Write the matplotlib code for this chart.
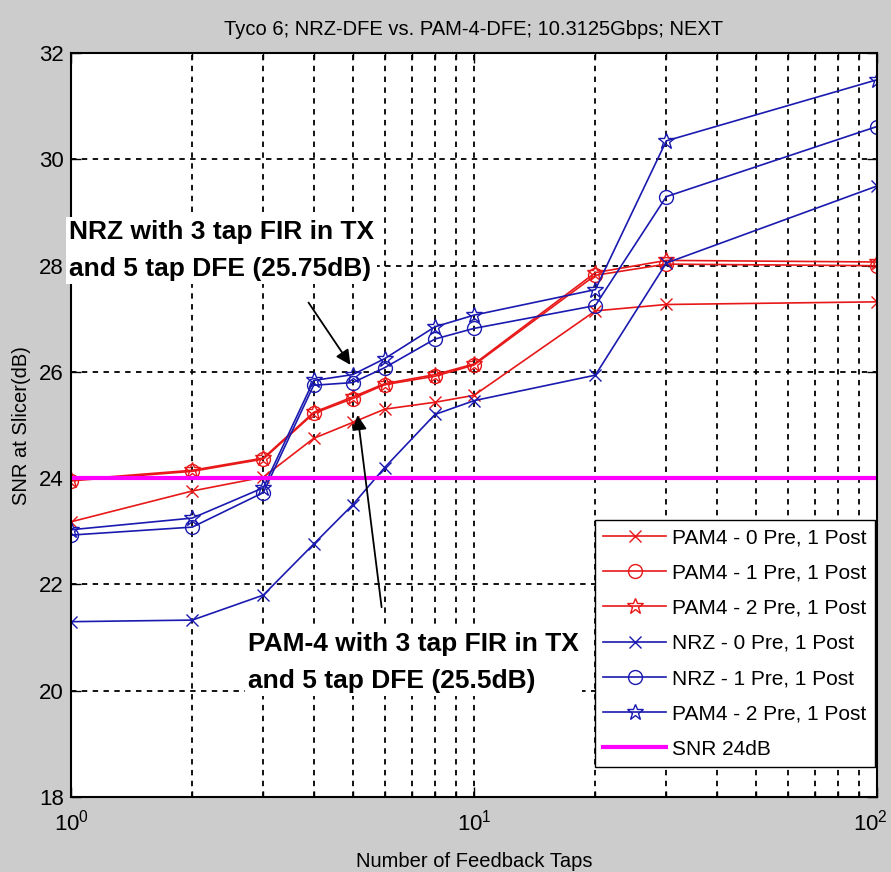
import matplotlib
matplotlib.use("Agg")
import matplotlib.pyplot as plt
import matplotlib.ticker as ticker
import matplotlib.transforms as mtransforms

plt.rcParams["font.family"] = ["Liberation Sans", "DejaVu Sans"]
plt.rcParams["mathtext.fontset"] = "custom"
plt.rcParams["mathtext.rm"] = "Liberation Sans"

taps = [1, 2, 3, 4, 5, 6, 8, 10, 20, 30, 100]

pam4_0pre = [23.18, 23.76, 24.02, 24.75, 25.05, 25.30, 25.43, 25.56, 27.15, 27.27, 27.32]
pam4_1pre = [23.95, 24.13, 24.36, 25.22, 25.50, 25.76, 25.92, 26.13, 27.82, 28.03, 28.00]
pam4_2pre = [23.97, 24.15, 24.38, 25.24, 25.53, 25.78, 25.95, 26.15, 27.87, 28.10, 28.07]
nrz_0pre = [21.30, 21.33, 21.80, 22.76, 23.50, 24.20, 25.20, 25.46, 25.94, 28.05, 29.50]
nrz_1pre = [22.93, 23.08, 23.73, 25.75, 25.80, 26.08, 26.62, 26.82, 27.25, 29.30, 30.62]
pam4_2pre_b = [23.03, 23.25, 23.82, 25.84, 25.95, 26.25, 26.85, 27.07, 27.55, 30.35, 31.50]
snr_target = 24

RED = "#e81818"
BLUE = "#1a1ab0"

fig = plt.figure(figsize=(8.91, 8.72), dpi=100, facecolor="#cccccc")
ax = fig.add_axes([0.0797, 0.086, 0.9046, 0.853])

ax.plot(taps, pam4_0pre, color=RED, marker="x", ms=8, lw=1.2, label="PAM4 - 0 Pre, 1 Post")
ax.plot(taps, pam4_1pre, color=RED, marker="o", ms=10, mfc="none", lw=1.2, label="PAM4 - 1 Pre, 1 Post")
ax.plot(taps, pam4_2pre, color=RED, marker="*", ms=12, mfc="none", lw=1.2, label="PAM4 - 2 Pre, 1 Post")
ax.plot(taps, nrz_0pre, color=BLUE, marker="x", ms=8, lw=1.2, label="NRZ - 0 Pre, 1 Post")
ax.plot(taps, nrz_1pre, color=BLUE, marker="o", ms=10, mfc="none", lw=1.2, label="NRZ - 1 Pre, 1 Post")
ax.plot(taps, pam4_2pre_b, color=BLUE, marker="*", ms=12, mfc="none", lw=1.2, label="PAM4 - 2 Pre, 1 Post")
ax.axhline(snr_target, color="#ff00ff", lw=3, label="SNR 24dB")

ax.set_xscale("log")
ax.set_xlim(1, 100)
ax.set_ylim(18, 32)
ax.set_yticks(range(18, 33, 2))
ax.set_xticks([1, 10, 100])
ax.set_xticklabels([r"$\mathregular{10^0}$", r"$\mathregular{10^1}$", r"$\mathregular{10^2}$"])
ax.xaxis.set_minor_locator(ticker.LogLocator(base=10, subs=range(2, 10)))
ax.xaxis.set_minor_formatter(ticker.NullFormatter())

ax.grid(True, which="both", axis="x", color="black", linestyle=(0, (3, 3)), lw=1.3)
ax.grid(True, which="major", axis="y", color="black", linestyle=(0, (3, 3)), lw=1.3)
ax.tick_params(which="both", direction="in", top=True, right=True, labelsize=16, width=1)
ax.tick_params(which="major", length=7)
ax.tick_params(which="minor", length=4)
ax.tick_params(axis="x", pad=9)
ax.tick_params(axis="y", pad=5)
for s in ax.spines.values():
    s.set_linewidth(1.5)

# keep the 10^2 label inside the figure
last = ax.get_xticklabels()[-1]
last.set_transform(last.get_transform() + mtransforms.ScaledTranslation(-5 / 72, 0, fig.dpi_scale_trans))

ax.set_title("Tyco 6; NRZ-DFE vs. PAM-4-DFE; 10.3125Gbps; NEXT", fontsize=14.5, pad=13)
ax.set_xlabel("Number of Feedback Taps", fontsize=14.5, labelpad=12)
ax.set_ylabel("SNR at Slicer(dB)", fontsize=14.5, labelpad=6)

bold = dict(fontsize=19, fontweight="bold", va="top", ha="left",
            transform=ax.transAxes, linespacing=1.7,
            bbox=dict(facecolor="white", edgecolor="none", pad=2))
ax.text(-0.003, 0.776, "NRZ with 3 tap FIR in TX\nand 5 tap DFE (25.75dB)", **bold)
ax.text(0.22, 0.222, "PAM-4 with 3 tap FIR in TX\nand 5 tap DFE (25.5dB)", **bold)

arrow = dict(arrowstyle="-|>", color="black", lw=1.3, mutation_scale=22)
ax.annotate("", xy=(4.98, 26.09), xytext=(3.85, 27.35), arrowprops=arrow)
ax.annotate("", xy=(5.13, 25.24), xytext=(5.91, 21.52), arrowprops=arrow)

leg = ax.legend(loc="lower right", bbox_to_anchor=(0.9975, 0.0403), borderaxespad=0,
                fontsize=15, numpoints=1, handlelength=3.0, handletextpad=0.3,
                labelspacing=0.78, borderpad=0.4, fancybox=False, framealpha=1,
                edgecolor="black")
leg.get_frame().set_linewidth(1.0)

fig.savefig("out.png", dpi=100, facecolor=fig.get_facecolor())
